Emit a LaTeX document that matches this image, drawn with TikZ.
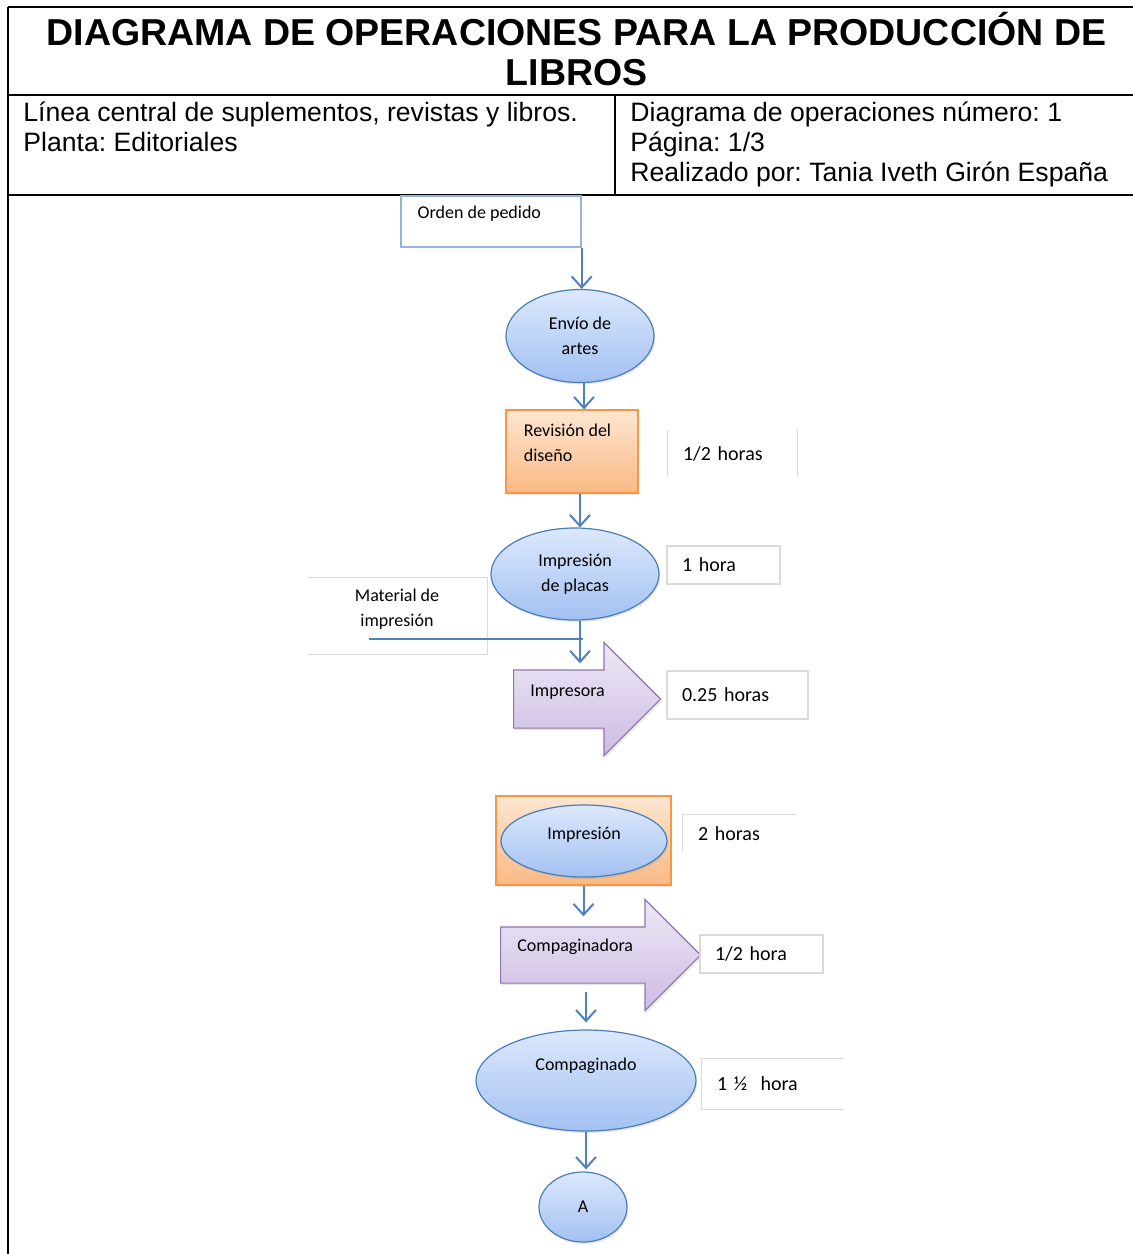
\documentclass[tikz,border=0pt]{standalone}
\usepackage{fontspec}
\setmainfont{Liberation Sans}
\newfontfamily\calibri{Carlito}
\usetikzlibrary{shapes.geometric,shapes.arrows,arrows.meta,shadows}
\frenchspacing

\definecolor{flechaazul}{HTML}{4F81BD}
\definecolor{ovaloborde}{HTML}{4A7EBB}
\definecolor{ovaloarriba}{HTML}{DCE8FC}
\definecolor{ovaloabajo}{HTML}{A3C1F2}
\definecolor{naranjaborde}{HTML}{F79646}
\definecolor{naranjaarriba}{HTML}{FDE6D2}
\definecolor{naranjaabajo}{HTML}{FAB984}
\definecolor{moradoborde}{HTML}{8D76AE}
\definecolor{moradoarriba}{HTML}{EEE8F6}
\definecolor{moradoabajo}{HTML}{CDBBE2}
\definecolor{ordenborde}{HTML}{95B3D7}
\definecolor{grisborde}{HTML}{DADADA}

\begin{document}
\begin{tikzpicture}[x=0.5pt,y=-0.5pt,
  marco/.style={line width=1.1pt},
  info/.style={font=\fontsize{13.3}{15}\selectfont, align=left, inner sep=0pt},
  texto/.style={font=\calibri\fontsize{9}{12.5}\selectfont, inner sep=0pt},
  sombra/.style={drop shadow={opacity=0.2, shadow xshift=0.6pt, shadow yshift=-1pt}},
  ovalo/.style={ellipse, draw=ovaloborde, line width=0.6pt, top color=ovaloarriba,
    bottom color=ovaloabajo, inner sep=0pt, align=center, texto, sombra},
  naranja/.style={rectangle, draw=naranjaborde, line width=0.6pt, top color=naranjaarriba,
    bottom color=naranjaabajo, sombra},
  bloque/.style={single arrow, draw=moradoborde, line width=0.6pt, top color=moradoarriba,
    bottom color=moradoabajo, single arrow head extend=13.75pt, inner sep=0pt, sombra},
  etiqueta/.style={font=\calibri\fontsize{10}{12}\selectfont, fill=white, inner xsep=7.5pt,
    inner ysep=0pt, align=left},
  borde/.style={draw=grisborde, line width=0.6pt},
  flecha/.style={draw=flechaazul, line width=1pt, -{Straight Barb[length=5.5pt,width=10pt]}},
  linea/.style={draw=flechaazul, line width=0.8pt}]
  \useasboundingbox (0,0) rectangle (1133,1254);

  \draw[marco] (8,7) -- (1133,7);
  \draw[marco] (8,7) -- (8,1254);
  \draw[marco] (8,95) -- (1133,95);
  \draw[marco] (8,195) -- (1133,195);
  \draw[marco] (615,95) -- (615,195);
  \node[font=\bfseries\fontsize{18.75}{20}\selectfont, align=center] (titulo) at (576.5,49)
    {DIAGRAMA DE OPERACIONES PARA LA PRODUCCIÓN DE\\LIBROS};
  \node[info, anchor=north west] (linea) at (23,102)
    {Línea central de suplementos, revistas y libros.\\Planta: Editoriales};
  \node[info, anchor=north west] (hoja) at (630,102)
    {Diagrama de operaciones número: 1\\Página: 1/3\\Realizado por: Tania Iveth Girón España};

  \node[draw=ordenborde, line width=0.7pt, fill=white, minimum width=90pt, minimum height=25.5pt] (orden) at (491,221.5) {};
  \node[texto, anchor=west] at ([xshift=8.5pt,yshift=-9pt]orden.north west) {Orden de pedido};
  \node[ovalo, minimum width=74pt, minimum height=46.5pt] (envio) at (580,336) {Envío de\\artes};
  \node[naranja, minimum width=66pt, minimum height=41.5pt] (revision) at (572,451.5) {};
  \node[texto, anchor=north west, align=left] at ([xshift=9pt,yshift=-7pt]revision.north west) {Revisión del\\diseño};
  \node[etiqueta, text width=49.5pt, minimum height=23.5pt] (t1) at (732.5,453.5) {1/2 horas};
  \draw[borde] (t1.north west) -- (t1.south west) (t1.north east) -- (t1.south east);

  \node[ovalo, minimum width=84pt, minimum height=46pt] (placas) at (575,574) {Impresión\\de placas};
  \node[etiqueta, text width=41.5pt, minimum height=19pt, draw=grisborde, line width=0.6pt] (t2) at (723.5,565) {1 hora};
  \node[etiqueta, minimum width=90pt, minimum height=38pt] (material) at (397,616) {};
  \draw[borde] (material.north west) -- (material.north east) -- (material.south east) -- (material.south west);
  \node[texto, align=center] at ([yshift=3.25pt]material.center) {Material de\\impresión};

  \node[bloque, minimum height=73.5pt, text height=14.25pt, text depth=14.25pt, anchor=tail] (impresora) at (513,699) {};
  \node[texto, anchor=west] at ([xshift=8.5pt,yshift=3.5pt]impresora.tail) {Impresora};
  \node[etiqueta, text width=55.5pt, minimum height=24pt, draw=grisborde, line width=0.6pt] (t3) at (737.5,695) {0.25 horas};

  \node[naranja, minimum width=87.5pt, minimum height=44.5pt] (grupo) at (583.5,840.5) {};
  \node[ovalo, minimum width=83pt, minimum height=36pt] (impresion) at (584,841) {};
  \node[texto] at ([yshift=3pt]impresion.center) {Impresión};
  \node[etiqueta, text width=42pt, minimum height=18.5pt] (t4) at (740,833.5) {2 horas};
  \draw[borde] (t4.south west) -- (t4.north west) -- (t4.north east);

  \node[bloque, minimum height=100pt, text height=13.75pt, text depth=13.75pt, anchor=tail] (compaginadora) at (500,955) {};
  \node[texto, anchor=west] at ([xshift=8.5pt,yshift=4pt]compaginadora.tail) {Compaginadora};
  \node[etiqueta, text width=46.5pt, minimum height=19pt, draw=grisborde, line width=0.6pt] (t5) at (761.5,954) {1/2 hora};

  \node[ovalo, minimum width=110pt, minimum height=50.5pt] (compaginado) at (586,1080.5) {};
  \node[texto] at ([yshift=7.5pt]compaginado.center) {Compaginado};
  \node[etiqueta, text width=55.5pt, minimum height=25pt] (t6) at (772.5,1084) {1 ½\ \ hora};
  \draw[borde] (t6.north east) -- (t6.north west) -- (t6.south west) -- (t6.south east);

  \node[ovalo, minimum width=44pt, minimum height=35pt] (conector) at (583,1207) {A};

  \draw[flecha] (orden.south east) -- (orden.south east |- envio.north);
  \draw[flecha] ([xshift=2pt]envio.south) -- ([xshift=2pt]envio.south |- revision.north);
  \draw[flecha] ([xshift=4pt]revision.south) -- ([xshift=4pt]revision.south |- placas.north);
  \draw[flecha, shorten >=3pt] ([xshift=2.5pt]placas.south) -- ([xshift=2.5pt]placas.south |- impresora.north);
  \coordinate (entrada) at (369,639);
  \draw[linea] (entrada) -- ([xshift=4pt]entrada -| placas.south);
  \draw[flecha, shorten >=5pt] (grupo.south) -- (grupo.south |- compaginadora.north);
  \draw[flecha, shorten <=4pt, shorten >=3.5pt] (compaginadora.south -| compaginado.north) -- (compaginado.north);
  \draw[flecha, shorten >=1pt] (compaginado.south) -- (compaginado.south |- conector.north);
\end{tikzpicture}
\end{document}
